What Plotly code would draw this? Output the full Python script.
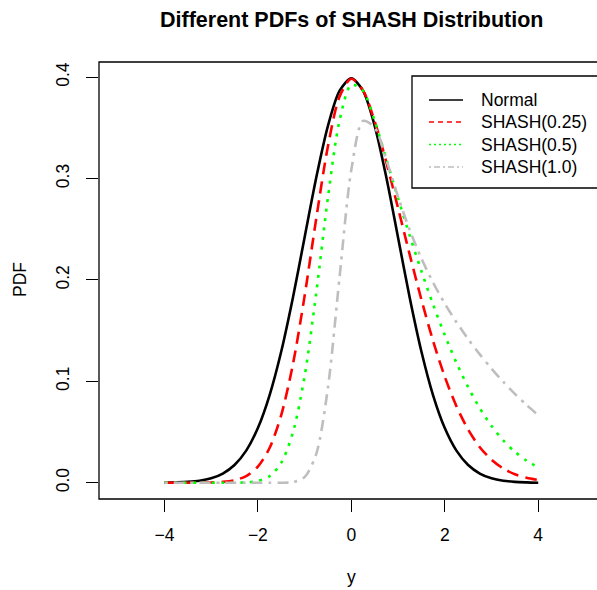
import plotly.graph_objects as go

# ---- data ----
x_vals = [-4.0, -3.75, -3.5, -3.25, -3.0, -2.75, -2.5, -2.25, -2.0, -1.75, -1.5, -1.25,
          -1.0, -0.75, -0.5, -0.25, 0.0, 0.25, 0.5, 0.75, 1.0, 1.25, 1.5, 1.75,
          2.0, 2.25, 2.5, 2.75, 3.0, 3.25, 3.5, 3.75, 4.0]

normal_pdf = [0.0001, 0.0004, 0.0009, 0.0020, 0.0044, 0.0091, 0.0175, 0.0317, 0.0540, 0.0863, 0.1295, 0.1826,
              0.2420, 0.3011, 0.3521, 0.3867, 0.3989, 0.3867, 0.3521, 0.3011, 0.2420, 0.1826, 0.1295, 0.0863,
              0.0540, 0.0317, 0.0175, 0.0091, 0.0044, 0.0020, 0.0009, 0.0004, 0.0001]

shash_025 = [0.0000, 0.0000, 0.0000, 0.0001, 0.0003, 0.0009, 0.0025, 0.0066, 0.0159, 0.0343, 0.0667, 0.1168,
             0.1841, 0.2608, 0.3320, 0.3811, 0.3985, 0.3870, 0.3565, 0.3160, 0.2710, 0.2250, 0.1806, 0.1399,
             0.1046, 0.0755, 0.0525, 0.0351, 0.0227, 0.0141, 0.0084, 0.0049, 0.0027]

shash_05 = [0.0000, 0.0000, 0.0000, 0.0000, 0.0000, 0.0000, 0.0001, 0.0004, 0.0018, 0.0065, 0.0196, 0.0494,
            0.1049, 0.1874, 0.2814, 0.3577, 0.3927, 0.3866, 0.3568, 0.3191, 0.2806, 0.2437, 0.2087, 0.1759,
            0.1457, 0.1184, 0.0943, 0.0735, 0.0561, 0.0419, 0.0306, 0.0218, 0.0153]

shash_10 = [0.0000, 0.0000, 0.0000, 0.0000, 0.0000, 0.0000, 0.0000, 0.0000, 0.0000, 0.0000, 0.0000, 0.0007,
            0.0056, 0.0285, 0.0938, 0.2037, 0.3086, 0.3569, 0.3504, 0.3185, 0.2821, 0.2492, 0.2212, 0.1974,
            0.1767, 0.1584, 0.1418, 0.1266, 0.1126, 0.0997, 0.0877, 0.0768, 0.0667]

series_names = ["Normal", "SHASH(0.25)", "SHASH(0.5)", "SHASH(1.0)"]
x_ticks = [-4, -2, 0, 2, 4]
x_ticktext = ["\u22124", "\u22122", "0", "2", "4"]
y_ticks = [0.0, 0.1, 0.2, 0.3, 0.4]
y_ticktext = ["0.0", "0.1", "0.2", "0.3", "0.4"]

# ---- styling ----
FONT = "Liberation Sans, Arial, Helvetica, sans-serif"
W, H = 597, 590
ML, MT, MB, MR = 99, 62, 91, 0
PW, PH = W - ML - MR, H - MT - MB

colors = ["#000000", "#FF0000", "#00FF00", "#BEBEBE"]
dashes = ["solid", "12px,7px", "3px,6.5px", "3px,6px,11px,6px"]
legend_dashes = ["solid", "5px,4px", "2px,3px", "2px,3px,6px,3px"]
series = [normal_pdf, shash_025, shash_05, shash_10]

fig = go.Figure()
for name, ys, c, d in zip(series_names, series, colors, dashes):
    fig.add_trace(go.Scatter(x=x_vals, y=ys, mode="lines", name=name,
                             line=dict(color=c, width=2.6, dash=d, shape="spline", smoothing=0.8),
                             showlegend=False))


def px2paper_x(px):
    return (px - ML) / PW


def px2paper_y(py):
    return (H - MB - py) / PH


shapes = []
annotations = []
# plot box (right side falls outside the window, as in the reference)
shapes.append(dict(type="rect", xref="paper", yref="paper", x0=0, x1=px2paper_x(620), y0=0, y1=1,
                   line=dict(color="black", width=1.3)))

# legend
shapes.append(dict(type="rect", xref="paper", yref="paper",
                   x0=px2paper_x(412), x1=px2paper_x(640), y0=px2paper_y(188), y1=px2paper_y(76),
                   line=dict(color="black", width=1.3), fillcolor="white", layer="above"))
rows = [100, 122, 144.5, 167]
for name, c, d, ry in zip(series_names, colors, legend_dashes, rows):
    shapes.append(dict(type="line", xref="paper", yref="paper",
                       x0=px2paper_x(429), x1=px2paper_x(463), y0=px2paper_y(ry), y1=px2paper_y(ry),
                       line=dict(color=c, width=1.3, dash=d), layer="above"))
    annotations.append(dict(text=name, xref="paper", yref="paper", x=px2paper_x(479), y=px2paper_y(ry),
                            xanchor="left", yanchor="middle", showarrow=False,
                            font=dict(family=FONT, size=17.5, color="black")))

# title and axis titles
annotations.append(dict(text="<b>Different PDFs of SHASH Distribution</b>", xref="paper", yref="paper",
                        x=px2paper_x(351), y=px2paper_y(20), xanchor="center", yanchor="middle",
                        showarrow=False, font=dict(family=FONT, size=21.5, color="black")))
annotations.append(dict(text="PDF", xref="paper", yref="paper", x=px2paper_x(20), y=px2paper_y(280),
                        xanchor="center", yanchor="middle", textangle=-90, showarrow=False,
                        font=dict(family=FONT, size=17.5, color="black")))
annotations.append(dict(text="y", xref="paper", yref="paper", x=px2paper_x(351), y=px2paper_y(577),
                        xanchor="center", yanchor="middle", showarrow=False,
                        font=dict(family=FONT, size=17.5, color="black")))

fig.update_layout(
    width=W, height=H,
    margin=dict(l=ML, r=MR, t=MT, b=MB, pad=0),
    paper_bgcolor="white", plot_bgcolor="white",
    showlegend=False,
    shapes=shapes, annotations=annotations,
    font=dict(family=FONT, size=17.5, color="black"),
    xaxis=dict(range=[-5.4, 5.258], showgrid=False, zeroline=False,
               showline=False, ticks="outside", ticklen=12, tickwidth=1.3, tickcolor="black",
               tickvals=x_ticks, ticktext=x_ticktext, ticklabelstandoff=8,
               tickfont=dict(family=FONT, size=17.5, color="black")),
    yaxis=dict(range=[-0.016, 0.415], showgrid=False, zeroline=False,
               showline=False, ticks="outside", ticklen=12, tickwidth=1.3, tickcolor="black",
               tickvals=y_ticks, ticktext=y_ticktext, tickangle=-90, ticklabelstandoff=10,
               tickfont=dict(family=FONT, size=17.5, color="black")),
)

fig.write_html("out.html")
